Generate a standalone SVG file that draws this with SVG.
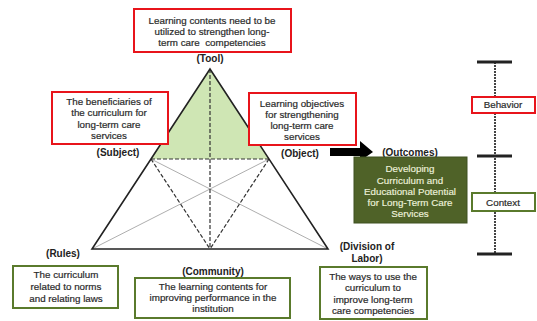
<svg xmlns="http://www.w3.org/2000/svg" width="537" height="321" viewBox="0 0 537 321">
<style>
text{font-family:"Liberation Sans",Arial,sans-serif;font-size:9.8px;fill:#2a2a2a;stroke:#2a2a2a;stroke-width:0.2;text-anchor:middle}
.lbl{font-weight:bold;font-size:10px;fill:#222;stroke:none}
.red{fill:#fff;stroke:#e8141b;stroke-width:2}
.grn{fill:#fff;stroke:#5a7a2c;stroke-width:2}
.side{stroke:#222;stroke-width:1.6;fill:none}
.dash{stroke:#333;stroke-width:1.2;stroke-dasharray:4,2;fill:none}
.thin{stroke:#999;stroke-width:0.8;fill:none}
.tick{stroke:#222;stroke-width:3}
.out{fill:#eef2dc;stroke:#eef2dc;stroke-width:0.15}
</style>
<g id="connectors">
<polygon points="210,69 151,159 269,159" fill="#cfe6b4"/>
<line class="thin" x1="151" y1="159" x2="328" y2="249"/>
<line class="thin" x1="269" y1="159" x2="92" y2="249"/>
<line class="dash" x1="151" y1="159" x2="269" y2="159"/>
<line class="dash" x1="210" y1="69" x2="210" y2="249"/>
<line class="dash" x1="151" y1="159" x2="210" y2="249"/>
<line class="dash" x1="269" y1="159" x2="210" y2="249"/>
<polygon class="side" points="210,69 92,249 328,249"/>
<polygon points="330,148 360,148 360,141 373,152 360,161 360,156 330,156" fill="#000"/>
<line x1="495" y1="62" x2="495" y2="254" stroke="#444" stroke-width="2" stroke-dasharray="2,1"/>
<line class="tick" x1="477" y1="62" x2="512" y2="62"/>
<line class="tick" x1="477" y1="156" x2="512" y2="156"/>
<line class="tick" x1="477" y1="254" x2="512" y2="254"/>
</g>
<g id="tool">
<rect class="red" x="134" y="9" width="157" height="43"/>
<text x="212" y="24">Learning contents need to be</text>
<text x="212" y="35">utilized to strengthen long-</text>
<text x="212" y="46" xml:space="preserve">term care  competencies</text>
<text class="lbl" x="210" y="62">(Tool)</text>
</g>
<g id="subject">
<rect class="red" x="52" y="92" width="116" height="52"/>
<text x="109" y="105">The beneficiaries of</text>
<text x="109" y="116">the curriculum for</text>
<text x="109" y="128">long-term care</text>
<text x="109" y="139">services</text>
<text class="lbl" x="118" y="156">(Subject)</text>
</g>
<g id="object">
<rect class="red" x="249" y="93" width="107" height="52"/>
<text x="302" y="107">Learning objectives</text>
<text x="302" y="118">for strengthening</text>
<text x="302" y="129">long-term care</text>
<text x="302" y="140">services</text>
<text class="lbl" x="300" y="157">(Object)</text>
</g>
<g id="outcomes">
<text class="lbl" x="410" y="156">(Outcomes)</text>
<rect x="354" y="157" width="113" height="66" fill="#4f6228" stroke="#3f5020" stroke-width="1"/>
<text class="out" x="410" y="172">Developing</text>
<text class="out" x="410" y="184">Curriculum and</text>
<text class="out" x="410" y="195">Educational Potential</text>
<text class="out" x="410" y="206">for Long-Term Care</text>
<text class="out" x="410" y="217">Services</text>
</g>
<g id="behavior">
<rect class="red" x="472" y="97" width="63" height="16"/>
<text x="503" y="108">Behavior</text>
</g>
<g id="context">
<rect class="grn" x="472" y="193" width="63" height="18"/>
<text x="503" y="205.5">Context</text>
</g>
<g id="rules">
<text class="lbl" x="63" y="257">(Rules)</text>
<rect class="grn" x="13" y="266" width="105" height="42"/>
<text x="66" y="277.5">The curriculum</text>
<text x="66" y="290">related to norms</text>
<text x="66" y="302">and relating laws</text>
</g>
<g id="community">
<text class="lbl" x="213" y="275">(Community)</text>
<rect class="grn" x="135" y="278" width="155" height="40"/>
<text x="213" y="290">The learning contents for</text>
<text x="213" y="301">improving performance in the</text>
<text x="213" y="312">institution</text>
</g>
<g id="division">
<text class="lbl" x="367" y="250">(Division of</text>
<text class="lbl" x="367" y="262">Labor)</text>
<rect class="grn" x="320" y="267" width="107" height="52"/>
<text x="373" y="280">The ways to use the</text>
<text x="373" y="291">curriculum to</text>
<text x="373" y="303">improve long-term</text>
<text x="373" y="314">care competencies</text>
</g>
</svg>
